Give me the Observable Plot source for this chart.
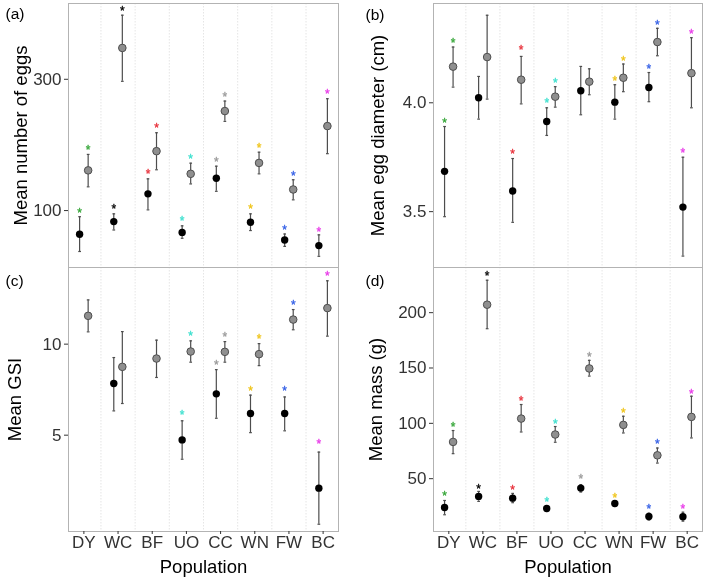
<!DOCTYPE html>
<html>
<head>
<meta charset="utf-8">
<script src="https://cdn.jsdelivr.net/npm/d3@7"></script>
<script src="https://cdn.jsdelivr.net/npm/@observablehq/plot@0.6"></script>
<style>
  body { margin: 0; background: #fff; }
  #chart { position: relative; width: 709px; height: 582px; background: #fff; font-family: "Liberation Sans", Arial, sans-serif; }
  .panel { position: absolute; will-change: transform; }
</style>
</head>
<body>
<div id="chart"></div>
<script>
// ---- categories ----
const populations = ["DY", "WC", "BF", "UO", "CC", "WN", "FW", "BC"];
const starColors = ["#35a638", "#000000", "#e8303a", "#3fe0cf", "#9a9a9a", "#efc41a", "#3560e6", "#e83ae8"];

// ---- (a) Mean number of eggs (log scale) ----
const eggsBlackMean = [82, 91.2, 115, 83.3, 131, 90.7, 78.2, 74.6];
const eggsBlackLow  = [71, 85, 100.6, 79.3, 117.5, 84.6, 74.1, 68.2];
const eggsBlackHigh = [95, 97.3, 130.4, 88, 145, 97.3, 82.2, 81.6];
const eggsBlackStar = [100.6, 103.7, 139, 93.8, 154.3, 104.3, 87, 85.8];
const eggsGreyMean  = [140, 390, 164.4, 136, 230, 149, 119.3, 202.8];
const eggsGreyLow   = [122, 295, 140.7, 125, 211, 136, 109.4, 161];
const eggsGreyHigh  = [160, 513, 191.8, 148.7, 250, 163, 129.4, 255];
const eggsGreyStar  = [171, 543, 205, 158.6, 266, 173.5, 137, 271];
const eggsTicks = [100, 300];

// ---- (b) Mean egg diameter (cm) ----
const diamBlackMean = [3.685, 4.023, 3.595, 3.914, 4.055, 4.003, 4.070, 3.521];
const diamBlackLow  = [3.477, 3.925, 3.451, 3.850, 3.945, 3.925, 4.005, 3.296];
const diamBlackHigh = [3.891, 4.121, 3.744, 3.977, 4.167, 4.083, 4.139, 3.750];
const diamBlackStar = [3.923, null, 3.779, 4.014, null, 4.113, 4.170, 3.785];
const diamGreyMean  = [4.166, 4.210, 4.106, 4.028, 4.097, 4.115, 4.279, 4.136];
const diamGreyLow   = [4.072, 4.017, 3.995, 3.980, 4.037, 4.051, 4.216, 3.977];
const diamGreyHigh  = [4.256, 4.402, 4.213, 4.074, 4.156, 4.178, 4.342, 4.299];
const diamGreyStar  = [4.287, null, 4.256, 4.107, null, 4.205, 4.371, 4.328];
const diamTicks = [3.5, 4.0];

// ---- (c) Mean GSI ----
const gsiBlackMean = [null, 7.835, null, 4.74, 7.27, 6.19, 6.19, 2.09];
const gsiBlackLow  = [null, 6.335, null, 3.68, 5.93, 5.14, 5.24, 0.11];
const gsiBlackHigh = [null, 9.264, null, 5.79, 8.60, 7.20, 7.10, 4.07];
const gsiBlackStar = [null, null, null, 6.28, 9.03, 7.62, 7.58, 4.69];
const gsiGreyMean  = [11.555, 8.753, 9.21, 9.595, 9.577, 9.45, 11.35, 11.98];
const gsiGreyLow   = [10.676, 6.74, 8.17, 9.01, 9.01, 8.82, 10.79, 10.44];
const gsiGreyHigh  = [12.43, 10.69, 10.22, 10.18, 10.14, 10.03, 11.9, 13.48];
const gsiGreyStar  = [null, null, null, 10.62, 10.58, 10.44, 12.32, 13.9];
const gsiTicks = [5, 10];

// ---- (d) Mean mass (g) ----
const massBlackMean = [24.0, 34.0, 32.4, 23.1, 41.5, 27.6, 15.9, 15.6];
const massBlackLow  = [17.4, 29.5, 28.3, 20.4, 37.9, 24.9, 12.5, 11.6];
const massBlackHigh = [30.3, 38.5, 36.7, 25.5, 44.6, 30.0, 18.8, 19.7];
const massBlackStar = [36.7, 43.0, 42.4, 31.5, 52.4, 35.5, 24.9, 24.9];
const massGreyMean  = [83.2, 207.2, 104.3, 89.9, 149.6, 98.6, 71.1, 105.8];
const massGreyLow   = [72.6, 185.5, 92.2, 82.9, 142.7, 91.3, 64.1, 86.8];
const massGreyHigh  = [93.5, 229.3, 117.0, 97.1, 156.9, 106.4, 77.7, 124.5];
const massGreyStar  = [99.8, 235.7, 122.5, 102.5, 162.6, 112.0, 83.8, 129.7];
const massTicks = [50, 100, 150, 200];

const FONT = "'Liberation Sans', Arial, Helvetica, sans-serif";
const dodge = 0.125;
const capHalf = 0.04;
const gridPositions = populations.slice(1).map((_, i) => i + 0.5);

function buildRows(black, grey) {
  const rows = [];
  [[black, "black", -dodge], [grey, "grey", dodge]].forEach(([s, kind, off]) => {
    populations.forEach((p, i) => {
      if (s.mean[i] == null) return;
      rows.push({kind, pop: p, x: i + off, mean: s.mean[i], lo: s.low[i], hi: s.high[i], star: s.star[i], color: starColors[i]});
    });
  });
  return rows;
}

function panel(cfg) {
  const rows = buildRows(cfg.black, cfg.grey);
  const blackRows = rows.filter(d => d.kind === "black");
  const greyRows = rows.filter(d => d.kind === "grey");
  const starRows = rows.filter(d => d.star != null);
  const marks = [
    Plot.ruleX(gridPositions, {stroke: "#dedede", strokeWidth: 0.8, strokeDasharray: "1.5,1.5"}),
    Plot.frame({stroke: "#b3b3b3", strokeWidth: 1}),
    Plot.ruleX(rows, {x: "x", y1: "lo", y2: "hi", stroke: "#4d4d4d", strokeWidth: 1.2}),
    Plot.link(rows, {x1: d => d.x - capHalf, x2: d => d.x + capHalf, y1: "hi", y2: "hi", stroke: "#4d4d4d", strokeWidth: 1.2}),
    Plot.link(rows, {x1: d => d.x - capHalf, x2: d => d.x + capHalf, y1: "lo", y2: "lo", stroke: "#4d4d4d", strokeWidth: 1.2}),
    Plot.dot(greyRows, {x: "x", y: "mean", r: 3.8, fill: "#8f8f8f", stroke: "#4d4d4d", strokeWidth: 1}),
    Plot.dot(blackRows, {x: "x", y: "mean", r: 3.7, fill: "#000"}),
    Plot.text(starRows, {x: "x", y: "star", text: () => "*", fill: "color", stroke: "color", strokeWidth: 0.3, fontSize: 12, dy: 3.2}),
    Plot.axisY({ticks: cfg.ticks, tickFormat: d3.format(cfg.fmt), tickSize: 4, tickPadding: 3, fontSize: 17, label: null, color: "#333"}),
    Plot.text([cfg.title], {frameAnchor: "left", textAnchor: "middle", lineAnchor: "middle", rotate: -90, dx: cfg.titleDx, fontSize: 18.5, fill: "#000"}),
    Plot.text([cfg.tag], {frameAnchor: "top-left", textAnchor: "start", lineAnchor: "middle", dx: cfg.tagDx, dy: cfg.tagDy, fontSize: 15.5, fill: "#000"})
  ];
  if (cfg.xAxis) {
    marks.push(
      Plot.axisX({ticks: populations.map((_, i) => i), tickFormat: i => populations[i], tickSize: 3, tickPadding: 1, fontSize: 17, label: null, color: "#333"}),
      Plot.text(["Population"], {frameAnchor: "bottom", textAnchor: "middle", lineAnchor: "middle", dy: 35.5, fontSize: 18.5, fill: "#000"})
    );
  }
  const svg = Plot.plot({
    width: cfg.width, height: cfg.height,
    marginLeft: cfg.mL, marginRight: cfg.mR, marginTop: cfg.mT, marginBottom: cfg.mB,
    style: {fontFamily: FONT, background: "transparent", overflow: "visible"},
    x: {domain: [-0.45, populations.length - 0.55], axis: cfg.xAxis ? undefined : null},
    y: Object.assign({domain: cfg.domain}, cfg.log ? {type: "log"} : {}),
    color: {type: "identity"},
    marks
  });
  const wrap = document.createElement("div");
  wrap.className = "panel";
  wrap.style.left = cfg.left + "px";
  wrap.style.top = cfg.top + "px";
  wrap.appendChild(svg);
  document.getElementById("chart").appendChild(wrap);
}

panel({
  left: 0, top: 0, width: 350, height: 270, mL: 68, mR: 12, mT: 3, mB: 3,
  log: true, domain: [62.1, 565.7], ticks: eggsTicks, fmt: "d",
  black: {mean: eggsBlackMean, low: eggsBlackLow, high: eggsBlackHigh, star: eggsBlackStar},
  grey: {mean: eggsGreyMean, low: eggsGreyLow, high: eggsGreyHigh, star: eggsGreyStar},
  title: "Mean number of eggs", titleDx: -47, tag: "(a)", tagDx: -63, tagDy: 11, xAxis: false
});
panel({
  left: 350, top: 0, width: 359, height: 270, mL: 83, mR: 7, mT: 3, mB: 3,
  log: false, domain: [3.2435, 4.456], ticks: diamTicks, fmt: ".1f",
  black: {mean: diamBlackMean, low: diamBlackLow, high: diamBlackHigh, star: diamBlackStar},
  grey: {mean: diamGreyMean, low: diamGreyLow, high: diamGreyHigh, star: diamGreyStar},
  title: "Mean egg diameter (cm)", titleDx: -55.5, tag: "(b)", tagDx: -68, tagDy: 12, xAxis: false
});
panel({
  left: 0, top: 264, width: 350, height: 318, mL: 68, mR: 12, mT: 3, mB: 51,
  log: false, domain: [-0.29, 14.21], ticks: gsiTicks, fmt: "d",
  black: {mean: gsiBlackMean, low: gsiBlackLow, high: gsiBlackHigh, star: gsiBlackStar},
  grey: {mean: gsiGreyMean, low: gsiGreyLow, high: gsiGreyHigh, star: gsiGreyStar},
  title: "Mean GSI", titleDx: -53, tag: "(c)", tagDx: -63, tagDy: 14, xAxis: true
});
panel({
  left: 350, top: 264, width: 359, height: 318, mL: 83, mR: 7, mT: 3, mB: 51,
  log: false, domain: [2.27, 240.8], ticks: massTicks, fmt: "d",
  black: {mean: massBlackMean, low: massBlackLow, high: massBlackHigh, star: massBlackStar},
  grey: {mean: massGreyMean, low: massGreyLow, high: massGreyHigh, star: massGreyStar},
  title: "Mean mass (g)", titleDx: -57.5, tag: "(d)", tagDx: -68, tagDy: 14, xAxis: true
});
</script>
</body>
</html>
